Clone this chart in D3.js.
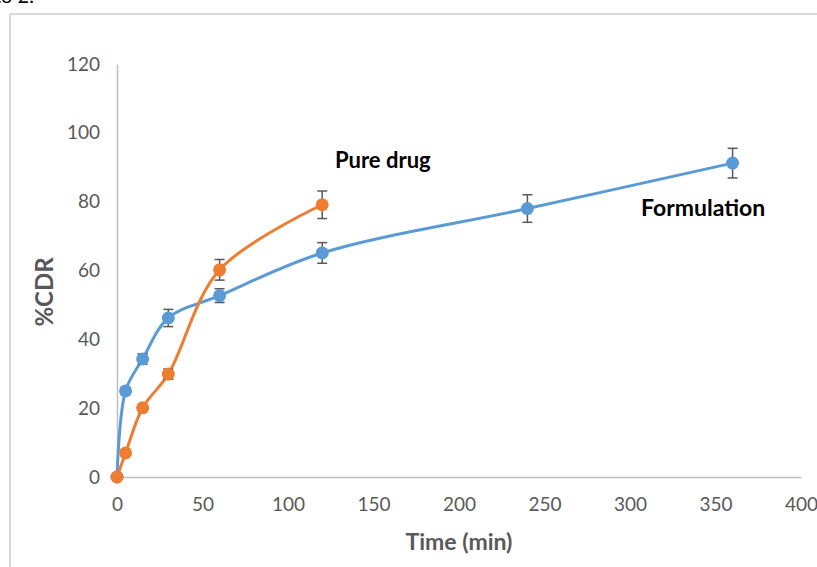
<!DOCTYPE html>
<html><head><meta charset="utf-8">
<script src="https://cdn.jsdelivr.net/npm/d3@7"></script>
<style>
body{margin:0;background:#fff;}
svg{display:block;}
text{font-family:Lato,"Open Sans",sans-serif;}
</style></head>
<body>
<svg id="c" width="817" height="567"></svg>
<script>
const timesFormulation = [0, 5, 15, 30, 60, 120, 240, 360];
const cdrFormulation   = [0, 25, 34.3, 46.2, 52.7, 65.1, 78, 91.2];
const errFormulation   = [0, 1, 1.5, 2.5, 2, 3, 4, 4.3];
const timesPure = [0, 5, 15, 30, 60, 120];
const cdrPure   = [0, 7, 20.1, 29.9, 60.2, 79.1];
const errPure   = [0, 0.5, 0.8, 1.5, 3, 4];
const xTicks = [0, 50, 100, 150, 200, 250, 300, 350, 400];
const yTicks = [0, 20, 40, 60, 80, 100, 120];

const svg = d3.select("#c");
// clipped caption remnant and chart frame
svg.append("text").attr("x", -6).attr("y", 3).attr("font-size", 20).attr("fill", "#000").text("to 2.");
svg.append("line").attr("x1", 10).attr("y1", 14).attr("x2", 817).attr("y2", 14).attr("stroke", "#d9d9d9").attr("stroke-width", 2);
svg.append("line").attr("x1", 10).attr("y1", 14).attr("x2", 10).attr("y2", 567).attr("stroke", "#d9d9d9").attr("stroke-width", 2);

const x = d3.scaleLinear().domain([0, 400]).range([117, 801]);
const y = d3.scaleLinear().domain([0, 120]).range([477, 64]);

// axes
const xAxis = svg.append("g").attr("transform", `translate(0,${y(0)})`)
  .call(d3.axisBottom(x).tickValues(xTicks).tickSize(0).tickPadding(21));
xAxis.select(".domain").attr("stroke", "#bfbfbf").attr("stroke-width", 1.5);
xAxis.selectAll("text").attr("font-size", 19).attr("fill", "#595959").attr("font-family", "Lato,sans-serif");

const yAxis = svg.append("g").attr("transform", `translate(${x(0)},0)`)
  .call(d3.axisLeft(y).tickValues(yTicks).tickSize(0).tickPadding(17));
yAxis.select(".domain").attr("stroke", "#bfbfbf").attr("stroke-width", 1.5);
yAxis.selectAll("text").attr("font-size", 19).attr("fill", "#595959").attr("font-family", "Lato,sans-serif");

svg.append("text").attr("x", 459).attr("y", 550).attr("text-anchor", "middle")
  .attr("font-size", 23).attr("font-weight", "bold").attr("fill", "#595959").text("Time (min)");
svg.append("text").attr("transform", "translate(53,292) rotate(-90)").attr("text-anchor", "middle")
  .attr("font-size", 24).attr("font-weight", "bold").attr("fill", "#595959").text("%CDR");

function series(times, vals, errs, color) {
  const pts = times.map((t, i) => ({t, v: vals[i], e: errs[i]}));
  const line = d3.line().x(d => x(d.t)).y(d => y(d.v)).curve(d3.curveCatmullRom.alpha(0.5));
  svg.append("path").datum(pts).attr("d", line).attr("fill", "none")
    .attr("stroke", color).attr("stroke-width", 3);
  const g = svg.append("g");
  pts.filter(d => d.e > 0).forEach(d => {
    const cx = x(d.t), y1 = y(d.v + d.e), y2 = y(d.v - d.e);
    g.append("line").attr("x1", cx).attr("x2", cx).attr("y1", y1).attr("y2", y2).attr("stroke", "#595959").attr("stroke-width", 1.5);
    g.append("line").attr("x1", cx - 5).attr("x2", cx + 5).attr("y1", y1).attr("y2", y1).attr("stroke", "#595959").attr("stroke-width", 1.5);
    g.append("line").attr("x1", cx - 5).attr("x2", cx + 5).attr("y1", y2).attr("y2", y2).attr("stroke", "#595959").attr("stroke-width", 1.5);
  });
  svg.append("g").selectAll("circle").data(pts).join("circle")
    .attr("cx", d => x(d.t)).attr("cy", d => y(d.v)).attr("r", 6.5).attr("fill", color);
}
series(timesFormulation, cdrFormulation, errFormulation, "#5b9bd5");
series(timesPure, cdrPure, errPure, "#ed7d31");

svg.append("text").attr("x", 335).attr("y", 168).attr("font-size", 22).attr("font-weight", "bold").attr("fill", "#000").text("Pure drug");
svg.append("text").attr("x", 641).attr("y", 216).attr("font-size", 23).attr("font-weight", "bold").attr("fill", "#000").text("Formulation");
</script>
</body></html>
